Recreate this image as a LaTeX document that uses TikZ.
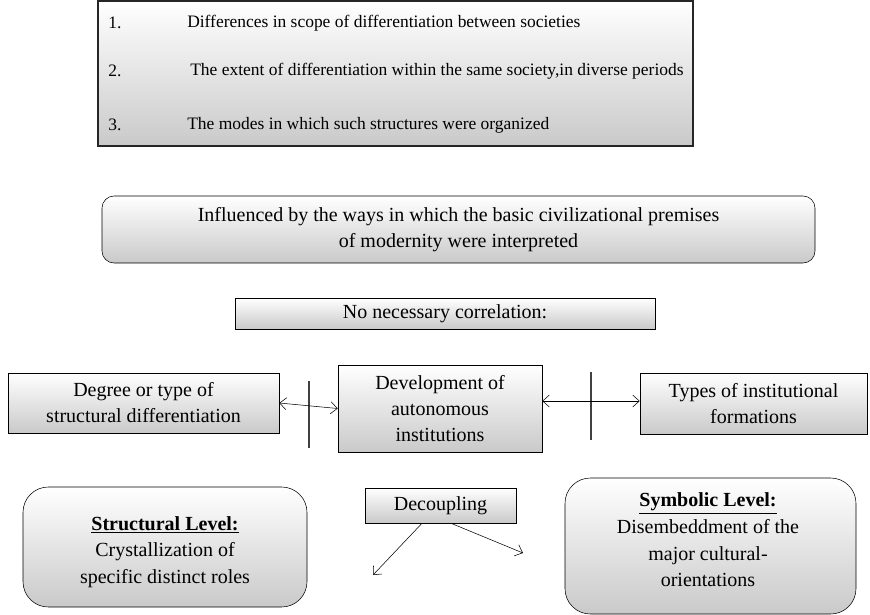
\documentclass[tikz,border=0pt]{standalone}
\usepackage{fontspec}
\setmainfont{Liberation Serif}
\usetikzlibrary{positioning,arrows.meta}
\newlength\pxu
\setlength\pxu{0.75pt}
\tikzset{
  shadebox/.style={draw, top color=white, bottom color=black!21, align=center,
    inner sep=0pt, font=\fontsize{15}{19.5}\selectfont},
  roundbox/.style={shadebox, rounded corners=9pt},
  bigroundbox/.style={shadebox, rounded corners=19pt},
  boxtext/.style={align=center, inner sep=0pt, font=\fontsize{15}{20}\selectfont},
  itemtext/.style={anchor=west, inner sep=0pt, font=\fontsize{13.1}{17}\selectfont},
}
\begin{document}
\begin{tikzpicture}[x=\pxu, y=-\pxu, >={Straight Barb[length=5pt,width=9pt]}]
	\useasboundingbox (0,0) rectangle (870,614);
	% Top list
	\node[shadebox, draw=black!85, line width=1.1pt, minimum width=595\pxu, minimum height=145\pxu] (list) at (395.5,73.5) {};
	\node[itemtext] (num1) at (108,23) {1.};
	\node[itemtext] (item1) at (187,23) {Differences in scope of differentiation between societies};
	\node[itemtext] (num2) at (108,71) {2.};
	\node[itemtext] (item2) at (190,71) {The extent of differentiation within the same society,in diverse periods};
	\node[itemtext] (num3) at (108,125) {3.};
	\node[itemtext] (item3) at (187,125) {The modes in which such structures were organized};
	
	% Middle boxes
	\node[roundbox, minimum width=713\pxu, minimum height=67\pxu] (premises) at (458.5,229.5)
		{Influenced by the ways in which the basic civilizational premises\\of modernity were interpreted};
	\node[shadebox, minimum width=420\pxu, minimum height=31\pxu] (corr) at (445,313.5) {No necessary correlation:};
	
	\node[shadebox, minimum width=271\pxu, minimum height=60\pxu] (degree) at (143.5,403)
		{Degree or type of\\structural differentiation};
	\node[shadebox, minimum width=204\pxu, minimum height=87\pxu] (autonom) at (440,408.5)
		{Development of\\autonomous\\institutions};
	\node[shadebox, minimum width=227\pxu, minimum height=61\pxu] (types) at (753.5,403.5)
		{Types of institutional\\formations};
	
	% Separators
	\coordinate (sepA1) at (309,381);
	\coordinate (sepA2) at (309,448);
	\coordinate (sepB1) at (591,372);
	\coordinate (sepB2) at (591,440);
	\draw[black!75, line width=0.8pt] (sepA1) -- (sepA2);
	\draw[black!75, line width=0.8pt] (sepB1) -- (sepB2);
	
	\draw[<->] (degree.east) -- (autonom.west);
	\draw[<->] ([yshift=2.5\pxu]autonom.east |- types.west) -- ([yshift=2.5\pxu]types.west);
	
	% Bottom row
	\node[bigroundbox, minimum width=284\pxu, minimum height=120\pxu] (struct) at (165,547) {};
	\node[boxtext] (structtxt) at (165,552)
		{\textbf{\underline{Structural Level:}}\\Crystallization of\\specific distinct roles};
	\node[shadebox, minimum width=151\pxu, minimum height=35\pxu] (decoup) at (440.5,505.5) {Decoupling};
	\node[bigroundbox, minimum width=291\pxu, minimum height=136\pxu] (symb) at (710.5,546) {};
	\node[boxtext] (symbtxt) at (708,540)
		{\textbf{\underline{Symbolic Level:}}\\Disembeddment of the\\major cultural-\\orientations};
	
	\coordinate (endL) at (373,575);
	\coordinate (endR) at (523,553);
	\draw[->] ([xshift=-18.5\pxu]decoup.south) -- (endL);
	\draw[->] ([xshift=10.5\pxu]decoup.south) -- (endR);
\end{tikzpicture}
\end{document}
